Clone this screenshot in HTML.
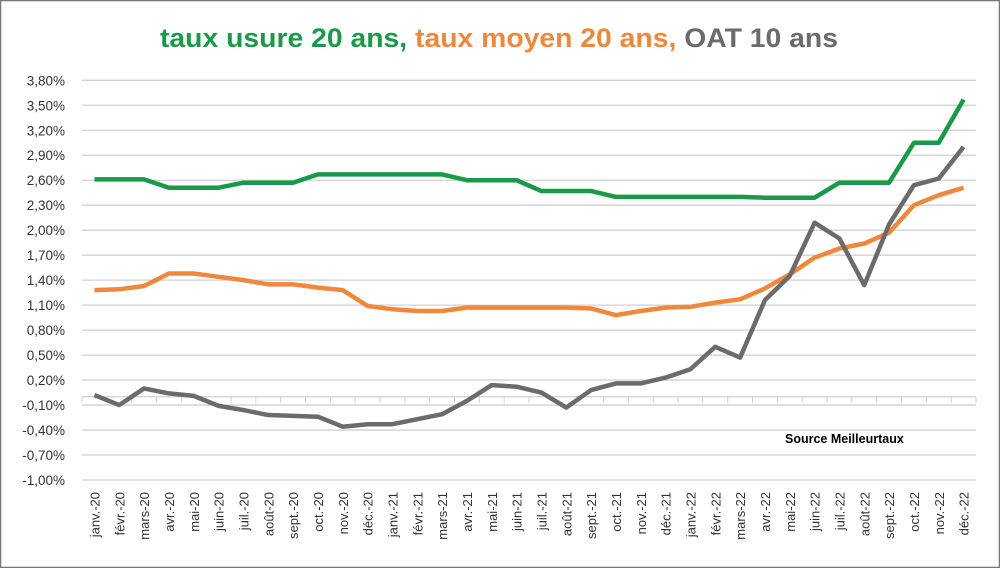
<!DOCTYPE html>
<html><head><meta charset="utf-8"><style>
html,body{margin:0;padding:0;background:#fff}
svg{display:block}
text{font-family:"Liberation Sans",sans-serif}
</style></head><body>
<svg id="chart" width="1000" height="568" viewBox="0 0 1000 568" xmlns="http://www.w3.org/2000/svg">
<rect x="0.5" y="0.5" width="999" height="567" fill="#fff" stroke="#777" stroke-width="1.5"/>
<text x="160" y="47" font-size="27" font-weight="bold" textLength="678" lengthAdjust="spacingAndGlyphs"><tspan fill="#1a9a48">taux usure 20 ans, </tspan><tspan fill="#f0883c">taux moyen 20 ans, </tspan><tspan fill="#6b6b6b">OAT 10 ans</tspan></text>
<g id="grid"></g><g id="yticks"></g><g id="xaxis"></g><g id="xlabels"></g><g id="series"></g>
<text x="785" y="443" font-size="12.5" font-weight="bold" fill="#000">Source Meilleurtaux</text>
</svg>
<script>
const months = ["janv.-20","févr.-20","mars-20","avr.-20","mai-20","juin-20","juil.-20","août-20","sept.-20","oct.-20","nov.-20","déc.-20","janv.-21","févr.-21","mars-21","avr.-21","mai-21","juin-21","juil.-21","août-21","sept.-21","oct.-21","nov.-21","déc.-21","janv.-22","févr.-22","mars-22","avr.-22","mai-22","juin-22","juil.-22","août-22","sept.-22","oct.-22","nov.-22","déc.-22"];
const usure = [2.61,2.61,2.61,2.51,2.51,2.51,2.57,2.57,2.57,2.67,2.67,2.67,2.67,2.67,2.67,2.60,2.60,2.60,2.47,2.47,2.47,2.40,2.40,2.40,2.40,2.40,2.40,2.39,2.39,2.39,2.57,2.57,2.57,3.05,3.05,3.57];
const moyen = [1.28,1.29,1.33,1.48,1.48,1.44,1.40,1.35,1.35,1.31,1.28,1.09,1.05,1.03,1.03,1.07,1.07,1.07,1.07,1.07,1.06,0.98,1.03,1.07,1.08,1.13,1.17,1.30,1.47,1.67,1.78,1.84,1.97,2.30,2.42,2.51];
const oat = [0.02,-0.10,0.10,0.04,0.01,-0.11,-0.16,-0.22,-0.23,-0.24,-0.36,-0.33,-0.33,-0.27,-0.21,-0.05,0.14,0.12,0.05,-0.13,0.08,0.16,0.16,0.23,0.33,0.60,0.47,1.16,1.45,2.09,1.90,1.34,2.07,2.54,2.62,3.00];
const yTicks = [3.8,3.5,3.2,2.9,2.6,2.3,2.0,1.7,1.4,1.1,0.8,0.5,0.2,-0.1,-0.4,-0.7,-1.0];
const yMin=-1.0,yMax=3.8,plotTop=80.3,plotBot=480,plotLeft=82,plotRight=976;
const NS="http://www.w3.org/2000/svg";
function y(v){return plotBot-(v-yMin)/(yMax-yMin)*(plotBot-plotTop);}
const band=(plotRight-plotLeft)/months.length;
function x(i){return plotLeft+band*(i+0.5);}
function mk(tag,attrs,parent){const e=document.createElementNS(NS,tag);for(const k in attrs)e.setAttribute(k,attrs[k]);parent.appendChild(e);return e;}
const grid=document.getElementById('grid'),yt=document.getElementById('yticks'),xa=document.getElementById('xaxis'),xl=document.getElementById('xlabels'),sg=document.getElementById('series');
yTicks.forEach(v=>{
  const l=mk('line',{x1:plotLeft,x2:plotRight,y1:y(v),y2:y(v),stroke:'#d0d0d0','stroke-width':1.3},grid);
  
  
  const t=mk('text',{x:65,y:y(v)+5,'text-anchor':'end','font-size':13.5,fill:'#333'},yt);
  
  
  t.textContent=v.toFixed(2).replace('.',',')+'%';
});
const ax=mk('line',{x1:plotLeft,x2:plotRight,y1:y(0),y2:y(0),stroke:'#d0d0d0','stroke-width':1.3},xa);


for(let i=0;i<=months.length;i++){
  const tk=mk('line',{x1:plotLeft+band*i,x2:plotLeft+band*i,y1:y(0),y2:y(0)+6,stroke:'#d0d0d0','stroke-width':1},xa);
  
  
}
months.forEach((m,i)=>{
  const t=mk('text',{transform:`translate(${x(i)+5},492) rotate(-90)`,'text-anchor':'end','font-size':13,fill:'#333'},xl);
  
  
  t.textContent=m;
});
function drawLine(vals,color,name){
  const p=mk('polyline',{points:vals.map((v,i)=>x(i)+','+y(v)).join(' '),fill:'none',stroke:color,'stroke-width':4.5,'stroke-linejoin':'round'},sg);
  
  
}
drawLine(usure,'#1a9a48','line-taux-usure');
drawLine(moyen,'#f0883c','line-taux-moyen');
drawLine(oat,'#6b6b6b','line-oat-10-ans');
</script>
</body></html>
